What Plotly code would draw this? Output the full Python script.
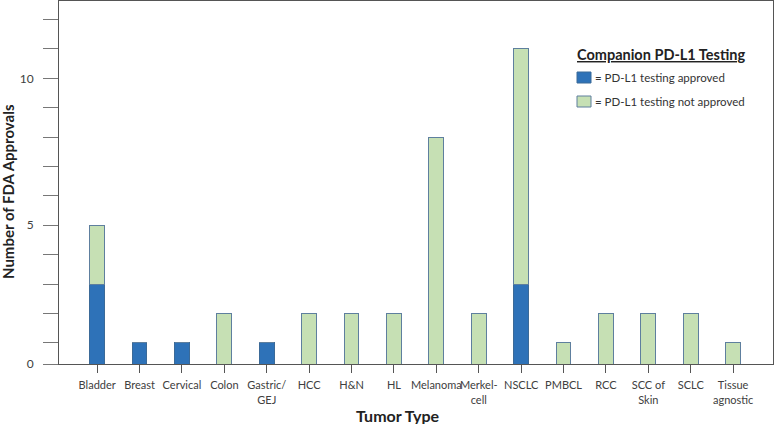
import plotly.graph_objects as go

tumor_types = ["Bladder", "Breast", "Cervical", "Colon", "Gastric/<br>GEJ", "HCC", "H&N", "HL",
               "Melanoma", "Merkel-<br>cell", "NSCLC", "PMBCL", "RCC", "SCC of<br>Skin", "SCLC",
               "Tissue<br>agnostic"]
approved = [3, 1, 1, 0, 1, 0, 0, 0, 0, 0, 3, 0, 0, 0, 0, 0]
not_approved = [2, 0, 0, 2, 0, 2, 2, 2, 8, 2, 8, 1, 2, 2, 2, 1]

y_tickvals = [0.28, 1, 2, 3, 4, 5, 6, 7, 8, 9, 10, 11, 12]
y_ticktext = ["0", "", "", "", "", "5", "", "", "", "", "10", "", ""]

legend_title = "Companion PD-L1 Testing"
name_approved = "= PD-L1 testing approved"
name_not_approved = "= PD-L1 testing not approved"

FONT = "Lato, Carlito, Calibri, sans-serif"
BLUE = "#2e72b8"
GREEN = "#c6e0b4"
OUTLINE = "#5e7f9e"

W, H = 778, 424
ML, MR, MT, MB = 59, 5, 1, 60
PW, PH = W - ML - MR, H - MT - MB


def px(x):
    return (x - ML) / PW


def py(y):
    return (H - MB - y) / PH


fig = go.Figure()
fig.add_trace(go.Bar(
    x=tumor_types, y=approved, name=name_approved,
    marker=dict(color=BLUE, line=dict(color="#3b6a98", width=1)),
    width=0.35,
))
fig.add_trace(go.Bar(
    x=tumor_types, y=not_approved, name=name_not_approved,
    marker=dict(color=GREEN, line=dict(color=OUTLINE, width=1)),
    width=0.35,
))

shapes = [
    dict(type="rect", xref="paper", yref="paper", x0=px(577), x1=px(591), y0=py(83), y1=py(72),
         fillcolor=BLUE, line=dict(color="#3b6a98", width=1)),
    dict(type="rect", xref="paper", yref="paper", x0=px(577), x1=px(591), y0=py(107), y1=py(96),
         fillcolor=GREEN, line=dict(color=OUTLINE, width=1)),
]

annotations = [
    dict(text="<b>Tumor Type</b>", xref="paper", yref="paper",
         x=px(398), y=py(415), showarrow=False, xanchor="center", yanchor="middle",
         font=dict(family=FONT, size=16, color="#222222")),
    dict(text="<b>Number of FDA Approvals</b>", xref="paper", yref="paper",
         x=px(8), y=py(192), textangle=-90, showarrow=False,
         xanchor="center", yanchor="middle",
         font=dict(family=FONT, size=15, color="#222222")),
    dict(text="<b><u>" + legend_title + "</u></b>", xref="paper", yref="paper",
         x=px(575), y=py(55), showarrow=False, xanchor="left", yanchor="middle",
         font=dict(family=FONT, size=14.5, color="#222222")),
    dict(text=name_approved, xref="paper", yref="paper",
         x=px(593), y=py(77.5), showarrow=False, xanchor="left", yanchor="middle",
         font=dict(family=FONT, size=11.5, color="#333333")),
    dict(text=name_not_approved, xref="paper", yref="paper",
         x=px(593), y=py(101.5), showarrow=False, xanchor="left", yanchor="middle",
         font=dict(family=FONT, size=11.5, color="#333333")),
]

fig.update_layout(
    barmode="stack",
    width=W, height=H,
    margin=dict(l=ML, r=MR, t=MT, b=MB, autoexpand=False),
    plot_bgcolor="white", paper_bgcolor="white",
    font=dict(family=FONT, color="#404040", size=11),
    showlegend=False,
    shapes=shapes,
    annotations=annotations,
    xaxis=dict(
        type="category",
        range=[-0.9, 15.94],
        automargin=False,
        showline=True, linecolor="#555555", linewidth=1, mirror=True,
        ticks="outside", ticklen=8, tickcolor="#555555",
        tickangle=0,
        ticklabelstandoff=3,
        tickfont=dict(family=FONT, size=11, color="#404040"),
        showgrid=False, zeroline=False,
    ),
    yaxis=dict(
        range=[0.28, 12.63],
        automargin=False,
        tickmode="array", tickvals=y_tickvals, ticktext=y_ticktext,
        showline=True, linecolor="#555555", linewidth=1, mirror=True,
        ticks="outside", ticklen=15, tickcolor="#777777",
        ticklabelstandoff=7,
        tickfont=dict(family=FONT, size=12, color="#404040"),
        showgrid=False, zeroline=False,
    ),
)

fig.write_html("out.html", config={"displayModeBar": False},
               post_script="document.body.style.margin='0px';")
